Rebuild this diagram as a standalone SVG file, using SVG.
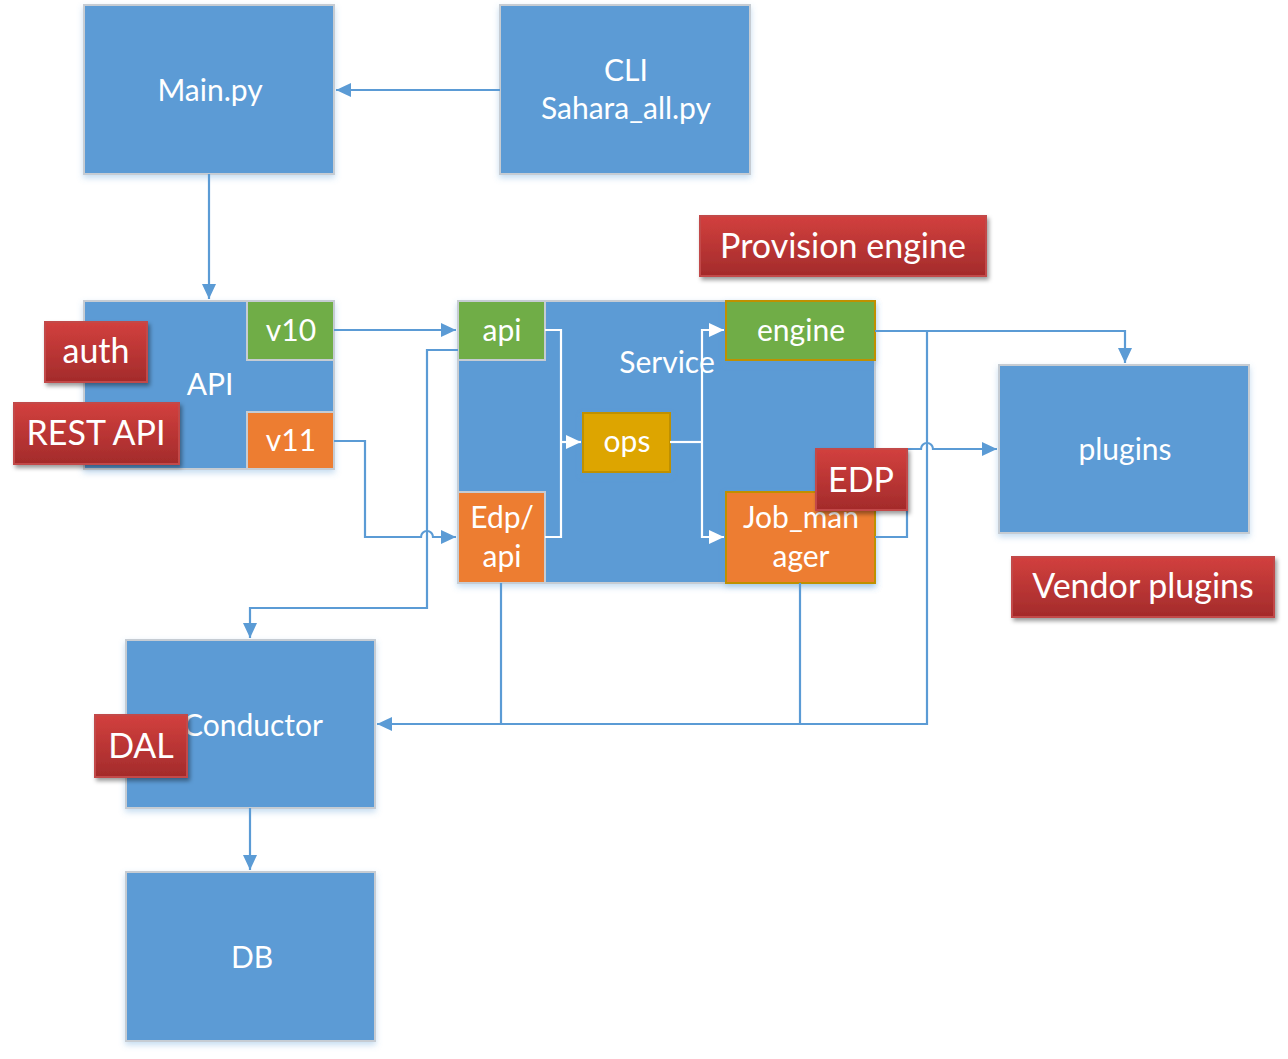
<svg xmlns="http://www.w3.org/2000/svg" width="1288" height="1059" viewBox="0 0 1288 1059">
<style>
text{font-family:Lato,"Open Sans","Liberation Sans",sans-serif;fill:#fff;text-anchor:middle}
.t{font-size:30px}
.r{font-size:34px}
.blue{fill:#5B9BD5;stroke:#C6CCD3;stroke-width:2}
.green{fill:#70AD47;stroke:#C6CCD3;stroke-width:2}
.orange{fill:#ED7D31;stroke:#C6CCD3;stroke-width:2}
.ggreen{fill:#70AD47;stroke:#BF9000;stroke-width:2}
.gorange{fill:#ED7D31;stroke:#BF9000;stroke-width:2}
.gold{fill:#DDA500;stroke:#BF9000;stroke-width:2}
.red{fill:url(#rg);stroke:#C24A48;stroke-width:2}
.c{fill:none;stroke:#5B9BD5;stroke-width:2.2}
.w{fill:none;stroke:#fff;stroke-width:2.2}
.sh{filter:url(#ds)}
.rs{filter:url(#rs)}
</style>
<defs>
<linearGradient id="rg" x1="0" y1="0" x2="0" y2="1">
<stop offset="0" stop-color="#D2403E"/>
<stop offset="1" stop-color="#A32B2B"/>
</linearGradient>
<filter id="ds" x="-10%" y="-10%" width="120%" height="130%">
<feDropShadow dx="0" dy="3" stdDeviation="3" flood-color="#5B9BD5" flood-opacity="0.35"/>
</filter>
<filter id="rs" x="-10%" y="-10%" width="130%" height="140%">
<feDropShadow dx="2" dy="3" stdDeviation="2" flood-color="#000" flood-opacity="0.4"/>
</filter>
<marker id="ab" markerUnits="userSpaceOnUse" markerWidth="18" markerHeight="18" refX="15" refY="8" orient="auto">
<path d="M0,1 L15,8 L0,15 Z" fill="#5B9BD5"/>
</marker>
<marker id="aw" markerUnits="userSpaceOnUse" markerWidth="18" markerHeight="18" refX="15" refY="8" orient="auto">
<path d="M0,1 L15,8 L0,15 Z" fill="#fff"/>
</marker>
</defs>
<rect width="1288" height="1059" fill="#fff"/>

<g id="main"><rect class="blue sh" x="84" y="5" width="250" height="169"/><text class="t" x="210" y="101">Main.py</text></g>
<g id="cli"><rect class="blue sh" x="500" y="5" width="250" height="169"/><text class="t" x="626" y="81">CLI</text><text class="t" x="626" y="119">Sahara_all.py</text></g>
<g id="api-box"><rect class="blue sh" x="84" y="301" width="250" height="168"/><text class="t" x="210" y="395">API</text></g>
<g id="v10"><rect class="green" x="247" y="301" width="87" height="59"/><text class="t" x="291" y="341">v10</text></g>
<g id="v11"><rect class="orange" x="247" y="412" width="87" height="57"/><text class="t" x="291" y="451">v11</text></g>
<g id="service"><rect class="blue sh" x="458" y="301" width="417" height="282"/><text class="t" x="667" y="373">Service</text></g>
<g id="api"><rect class="green" x="458" y="301" width="87" height="59"/><text class="t" x="502" y="341">api</text></g>
<g id="edp-api"><rect class="orange" x="458" y="492" width="87" height="91"/><text class="t" x="502" y="528">Edp/</text><text class="t" x="502" y="567">api</text></g>
<g id="ops"><rect class="gold sh" x="583" y="413" width="87" height="59"/><text class="t" x="627" y="452">ops</text></g>
<g id="engine"><rect class="ggreen sh" x="726" y="301" width="149" height="59"/><text class="t" x="801" y="341">engine</text></g>
<g id="job-manager"><rect class="gorange sh" x="726" y="492" width="149" height="91"/><text class="t" x="801" y="528">Job_man</text><text class="t" x="801" y="567">ager</text></g>
<g id="plugins"><rect class="blue sh" x="999" y="365" width="250" height="168"/><text class="t" x="1125" y="460">plugins</text></g>
<g id="conductor"><rect class="blue sh" x="126" y="640" width="249" height="168"/><text class="t" x="253" y="736">Conductor</text></g>
<g id="db"><rect class="blue sh" x="126" y="872" width="249" height="169"/><text class="t" x="252" y="968">DB</text></g>

<g id="connectors">
<path class="c" d="M500,90 H336" marker-end="url(#ab)"/>
<path class="c" d="M209,174 V299" marker-end="url(#ab)"/>
<path class="c" d="M334,330 H456" marker-end="url(#ab)"/>
<path class="c" d="M334,441 H365 V537 H421 a6,6 0 0 1 12,0 H456" marker-end="url(#ab)"/>
<path class="c" d="M458,350 H427 V608 H250 V638" marker-end="url(#ab)"/>
<path class="w" d="M545,330 H561 V537 H545"/>
<path class="w" d="M561,442 H581" marker-end="url(#aw)"/>
<path class="w" d="M670,442 H702"/>
<path class="w" d="M702,442 V330 H724" marker-end="url(#aw)"/>
<path class="w" d="M702,442 V537 H724" marker-end="url(#aw)"/>
<path class="c" d="M875,331 H1125 V363" marker-end="url(#ab)"/>
<path class="c" d="M875,537 H907 V449 H921 a6,6 0 0 1 12,0 H997" marker-end="url(#ab)"/>
<path class="c" d="M927,331 V724 H377" marker-end="url(#ab)"/>
<path class="c" d="M501,583 V724"/>
<path class="c" d="M800,583 V724"/>
<path class="c" d="M250,808 V870" marker-end="url(#ab)"/>
</g>

<g id="provision-engine"><rect class="red rs" x="700" y="216" width="286" height="60"/><text class="r" x="843" y="258">Provision engine</text></g>
<g id="auth"><rect class="red rs" x="45" y="322" width="102" height="60"/><text class="r" x="96" y="363">auth</text></g>
<g id="rest-api"><rect class="red rs" x="14" y="403" width="165" height="61"/><text class="r" x="96" y="445">REST API</text></g>
<g id="edp"><rect class="red rs" x="816" y="449" width="91" height="61"/><text class="r" x="861" y="492">EDP</text></g>
<g id="vendor-plugins"><rect class="red rs" x="1012" y="557" width="262" height="60"/><text class="r" x="1143" y="598">Vendor plugins</text></g>
<g id="dal"><rect class="red rs" x="95" y="715" width="92" height="62"/><text class="r" x="141" y="758">DAL</text></g>
</svg>
